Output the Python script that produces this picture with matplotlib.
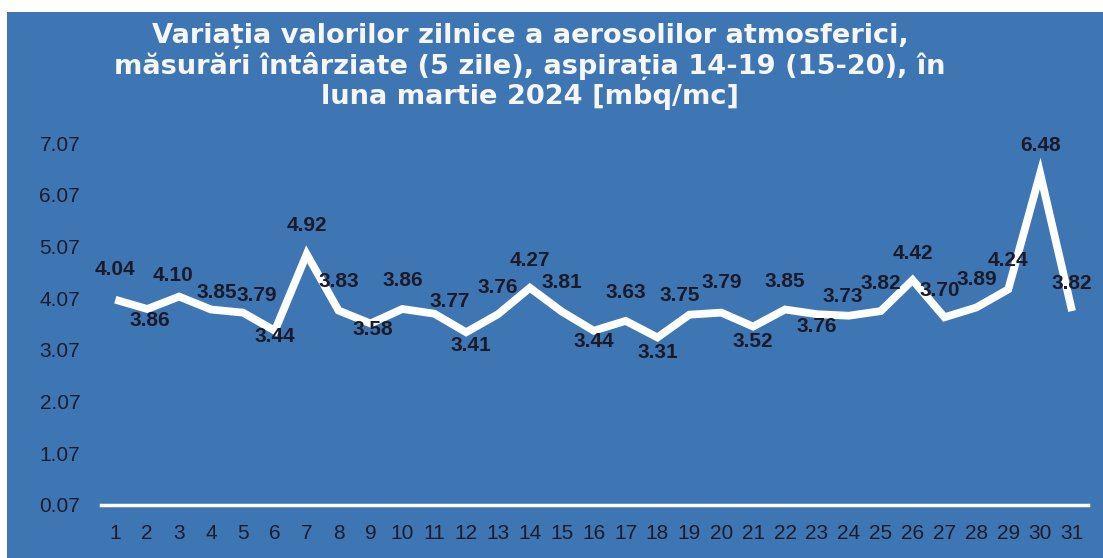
import matplotlib
matplotlib.use("Agg")
import matplotlib.pyplot as plt
from matplotlib.patches import Rectangle

# ---- data ----
days = list(range(1, 32))
values = [4.04, 3.86, 4.10, 3.85, 3.79, 3.44, 4.92, 3.83, 3.58, 3.86,
          3.77, 3.41, 3.76, 4.27, 3.81, 3.44, 3.63, 3.31, 3.75, 3.79,
          3.52, 3.85, 3.76, 3.73, 3.82, 4.42, 3.70, 3.89, 4.24, 6.48, 3.82]
y_ticks = [0.07, 1.07, 2.07, 3.07, 4.07, 5.07, 6.07, 7.07]
title_lines = ["Variația valorilor zilnice a aerosolilor atmosferici,",
               "măsurări întârziate (5 zile), aspirația 14-19 (15-20), în",
               "luna martie 2024 [mbq/mc]"]

# label offsets (pixels) relative to each point: (dx, dy) with dy positive = up
label_dx = [0, 3, -6, 6, 14, 0, 0, 0, 2, 0,
            15, 5, 0, 0, 0, 0, 0, 0, -10, 0,
            0, 0, 0, -6, 0, 0, -5, 0, 0, 0, 0]
label_dy = [30, -11, 21, 17, 17, -6, 29, 29, -6, 29,
            12, -13, 27, 27, 29, -11, 28, -15, 19, 30,
            -15, 28, -12, 19, 28, 27, 27, 28, 29, 28, 28]

W, H = 1103, 558
fig = plt.figure(figsize=(W / 100, H / 100), dpi=100, facecolor="white")

blue = "#3e76b4"
fig.patches.append(Rectangle((7 / W, 0), 1 - 7 / W, (H - 12) / H,
                             transform=fig.transFigure, facecolor=blue,
                             edgecolor="none", zorder=-10))

ax = fig.add_axes([101 / W, (H - 505) / H, 987 / W, 362 / H])
ax.set_zorder(5)
ax.set_facecolor("none")

ax.plot(days, values, color="white", lw=5.6, solid_joinstyle="miter",
        solid_capstyle="butt", zorder=3)

label_color = "#1a1a28"
for d, v, dx, dy in zip(days, values, label_dx, label_dy):
    ax.annotate(f"{v:.2f}", xy=(d, v), xytext=(dx * 0.72, dy * 0.72),
                textcoords="offset points", ha="center", va="center",
                fontsize=15, fontweight="bold", color=label_color,
                family=["Liberation Sans", "DejaVu Sans"], zorder=4)

ax.set_xlim(0.55, 31.5)
ax.set_ylim(0.07, 7.07)
ax.set_yticks(y_ticks)
ax.set_yticklabels([f"{t:.2f}" for t in y_ticks])
ax.set_xticks(days)
ax.set_xticklabels([str(d) for d in days])

for s in ["top", "right", "left"]:
    ax.spines[s].set_visible(False)
ax.spines["bottom"].set_color("white")
ax.spines["bottom"].set_linewidth(2.5)
ax.spines["bottom"].set_zorder(2)

ax.tick_params(axis="both", length=0)
ax.tick_params(axis="y", pad=15, labelsize=15, labelcolor="#1c1c2c")
ax.tick_params(axis="x", pad=14, labelsize=15, labelcolor="#1c1c2c")
for lab in ax.get_yticklabels():
    lab.set_family(["Liberation Sans", "DejaVu Sans"])
for lab in ax.get_xticklabels():
    lab.set_family(["Liberation Sans Narrow", "Liberation Sans", "DejaVu Sans"])

title_y = [36, 66, 97]
for txt, yy in zip(title_lines, title_y):
    fig.text(530 / W, 1 - yy / H, txt, ha="center", va="center",
             fontsize=19.6, fontweight="bold", color="#f6f6f6",
             family=["DejaVu Sans"])

fig.savefig("out.png", dpi=100, facecolor="white")
